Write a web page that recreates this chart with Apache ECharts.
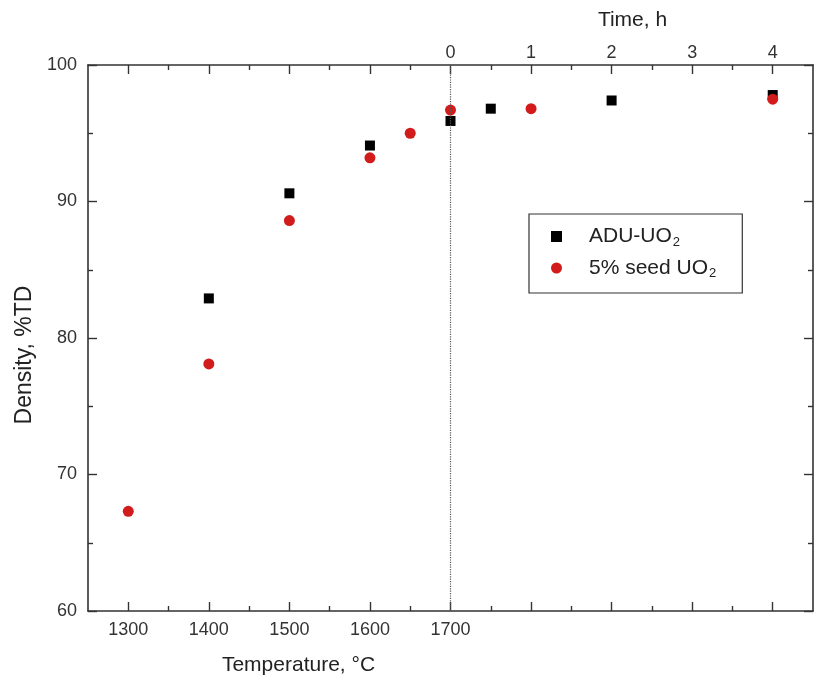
<!DOCTYPE html>
<html>
<head>
<meta charset="utf-8">
<script src="https://cdn.jsdelivr.net/npm/echarts@6/dist/echarts.min.js"></script>
<style>
html,body{margin:0;padding:0;background:#fff;}
#chart{width:814px;height:682px;}
</style>
</head>
<body>
<div id="chart"></div>
<script>
// ---- data ----
const aduTemps = [1400, 1500, 1600, 1700];
const aduTempDensity = [82.9, 90.6, 94.1, 95.9];
const seedTemps = [1300, 1400, 1500, 1600, 1650, 1700];
const seedTempDensity = [67.3, 78.1, 88.6, 93.2, 95.0, 96.7];
const aduTimes = [0.5, 2, 4];
const aduTimeDensity = [96.8, 97.4, 97.8];
const seedTimes = [1, 4];
const seedTimeDensity = [96.8, 97.5];

const tempMajorTicks = [1300, 1400, 1500, 1600, 1700, 1800, 1900, 2000, 2100];
const tempMinorTicks = [1350, 1450, 1550, 1650, 1750, 1850, 1950, 2050];
const tempLabels = [1300, 1400, 1500, 1600, 1700];
const timeMajorTicks = [-4, -3, -2, -1, 0, 1, 2, 3, 4];
const timeMinorTicks = [-3.5, -2.5, -1.5, -0.5, 0.5, 1.5, 2.5, 3.5];
const timeLabels = [0, 1, 2, 3, 4];
const dividerTemp = 1700;

const seriesNames = ['ADU-UO2', '5% seed UO2'];

function zip(xs, ys) { return xs.map((x, i) => [x, ys[i]]); }

const axisColor = '#333';
const textColor = '#333';
const RED = '#d21c1c';
const FONT = 'Liberation Sans, Arial, sans-serif';

const chart = echarts.init(document.getElementById('chart'));
const gridPos = { left: 88, right: 1, top: 65, bottom: 71 };
const plainNum = function (v) { return String(v); };

chart.setOption({
  animation: false,
  backgroundColor: '#fff',
  grid: [
    Object.assign({ containLabel: false }, gridPos),
    Object.assign({ containLabel: false }, gridPos)
  ],
  legend: {
    orient: 'vertical',
    left: 529,
    top: 214,
    padding: [12, 26, 13, 22],
    itemWidth: 11,
    itemHeight: 11,
    itemGap: 9,
    borderColor: '#333',
    borderWidth: 1.2,
    selectedMode: false,
    data: [
      { name: seriesNames[0], icon: 'rect' },
      { name: seriesNames[1], icon: 'circle' }
    ],
    formatter: function (name) {
      return name === seriesNames[0] ? '{a|ADU-UO}{s|2}' : '{a|5% seed UO}{s|2}';
    },
    textStyle: {
      fontFamily: FONT,
      color: '#222',
      rich: {
        a: { fontSize: 21, fontFamily: FONT, color: '#222', lineHeight: 24, padding: [0, 0, 0, 22] },
        s: { fontSize: 13, fontFamily: FONT, color: '#222', lineHeight: 9, verticalAlign: 'bottom', padding: [0, 0, 0, 1] }
      }
    }
  },
  xAxis: [
    {
      gridIndex: 0, type: 'value', position: 'bottom', min: 1250, max: 2150,
      name: 'Temperature, \u00B0C', nameLocation: 'middle', nameGap: 44,
      nameTextStyle: { fontFamily: FONT, fontSize: 21, color: '#222', padding: [0, 304, 0, 0] },
      axisLine: { show: true, onZero: false, lineStyle: { color: axisColor, width: 1.6 } },
      axisTick: { show: true, inside: true, length: 9, customValues: tempMajorTicks, lineStyle: { color: axisColor, width: 1.4 } },
      axisLabel: { show: true, customValues: tempLabels, formatter: plainNum, margin: 10, fontFamily: FONT, fontSize: 18, color: textColor },
      splitLine: { show: false }
    },
    {
      gridIndex: 0, type: 'value', position: 'top', min: -4.5, max: 4.5,
      name: 'Time, h', nameLocation: 'middle', nameGap: 34,
      nameTextStyle: { fontFamily: FONT, fontSize: 21, color: '#222', padding: [0, 0, 0, 364] },
      axisLine: { show: true, onZero: false, lineStyle: { color: axisColor, width: 1.6 } },
      axisTick: { show: true, inside: true, length: 9, customValues: timeMajorTicks, lineStyle: { color: axisColor, width: 1.4 } },
      axisLabel: { show: true, customValues: timeLabels, formatter: plainNum, margin: 3, fontFamily: FONT, fontSize: 18, color: textColor },
      splitLine: { show: false }
    },
    {
      gridIndex: 1, type: 'value', position: 'bottom', min: 1250, max: 2150,
      axisLine: { show: false },
      axisTick: { show: true, inside: true, length: 5, customValues: tempMinorTicks, lineStyle: { color: axisColor, width: 1.4 } },
      axisLabel: { show: false },
      splitLine: { show: false }
    },
    {
      gridIndex: 1, type: 'value', position: 'top', min: -4.5, max: 4.5,
      axisLine: { show: false },
      axisTick: { show: true, inside: true, length: 5, customValues: timeMinorTicks, lineStyle: { color: axisColor, width: 1.4 } },
      axisLabel: { show: false },
      splitLine: { show: false }
    }
  ],
  yAxis: [
    {
      gridIndex: 0, type: 'value', position: 'left', min: 60, max: 100, interval: 10,
      name: 'Density, %TD', nameLocation: 'middle', nameGap: 51,
      nameTextStyle: { fontFamily: FONT, fontSize: 23, color: '#222', padding: [0, 34, 0, 0] },
      axisLine: { show: true, onZero: false, lineStyle: { color: axisColor, width: 1.6 } },
      axisTick: { show: true, inside: true, length: 9, lineStyle: { color: axisColor, width: 1.4 } },
      minorTick: { show: true, splitNumber: 2, length: 5, lineStyle: { color: axisColor, width: 1.4 } },
      axisLabel: { show: true, margin: 11, fontFamily: FONT, fontSize: 18, color: textColor },
      splitLine: { show: false }
    },
    {
      gridIndex: 0, type: 'value', position: 'right', min: 60, max: 100, interval: 10,
      axisLine: { show: true, onZero: false, lineStyle: { color: axisColor, width: 1.6 } },
      axisTick: { show: true, inside: true, length: 9, lineStyle: { color: axisColor, width: 1.4 } },
      minorTick: { show: true, splitNumber: 2, length: 5, lineStyle: { color: axisColor, width: 1.4 } },
      axisLabel: { show: false },
      splitLine: { show: false }
    },
    {
      gridIndex: 1, type: 'value', show: false, min: 60, max: 100
    }
  ],
  series: [
    {
      name: 'divider', type: 'scatter', xAxisIndex: 0, yAxisIndex: 0,
      data: [], z: 1,
      markLine: {
        silent: true, symbol: 'none', label: { show: false },
        lineStyle: { type: 'dotted', color: '#555', width: 1.2 },
        data: [{ xAxis: dividerTemp }]
      }
    },
    {
      name: seriesNames[0], type: 'scatter', xAxisIndex: 0, yAxisIndex: 0,
      symbol: 'rect', symbolSize: 10, itemStyle: { color: '#000', opacity: 1 },
      data: zip(aduTemps, aduTempDensity), z: 3
    },
    {
      name: seriesNames[1], type: 'scatter', xAxisIndex: 0, yAxisIndex: 0,
      symbol: 'circle', symbolSize: 11, itemStyle: { color: RED, opacity: 1 },
      data: zip(seedTemps, seedTempDensity), z: 4
    },
    {
      name: seriesNames[0], type: 'scatter', xAxisIndex: 1, yAxisIndex: 0,
      symbol: 'rect', symbolSize: 10, itemStyle: { color: '#000', opacity: 1 },
      data: zip(aduTimes, aduTimeDensity), z: 3
    },
    {
      name: seriesNames[1], type: 'scatter', xAxisIndex: 1, yAxisIndex: 0,
      symbol: 'circle', symbolSize: 11, itemStyle: { color: RED, opacity: 1 },
      data: zip(seedTimes, seedTimeDensity), z: 4
    }
  ]
});
</script>
</body>
</html>
